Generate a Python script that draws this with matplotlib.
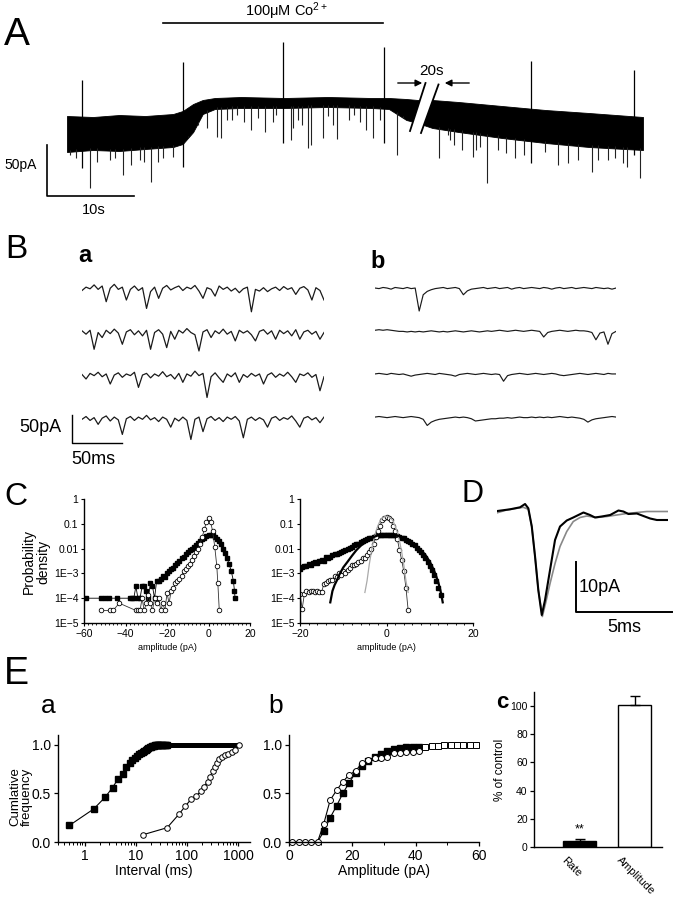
import numpy as np
import matplotlib
matplotlib.use("Agg")
import matplotlib.pyplot as plt
import matplotlib.transforms as mtransforms
from matplotlib.ticker import FixedLocator, MultipleLocator, NullLocator, LogLocator, NullFormatter
from matplotlib.patches import Polygon

plt.rcParams['font.family'] = ['Liberation Sans', 'DejaVu Sans']
plt.rcParams['mathtext.fontset'] = 'custom'
plt.rcParams['mathtext.rm'] = 'Liberation Sans'
plt.rcParams['mathtext.default'] = 'regular'
plt.rcParams['axes.linewidth'] = 1.0

# ---------------- data ----------------
# A: long recording (time s, current pA)
a_env_t = [0, 3, 6, 9, 12.2, 13.3, 14.5, 15.6, 17, 20, 25, 30, 35, 37, 39, 40.3, 42.0, 45, 50, 55, 60, 66.2]
a_env_top = [34, 33, 35, 34, 36, 39, 46, 50, 52, 53, 52, 53, 52, 52, 51, 50, 50, 48, 44, 40, 37, 33]
a_env_bot = [-2, 0, -1, 1, 3, 6, 18, 36, 41, 42, 42, 43, 42, 41, 30, 27, 22, 18, 12, 7, 3, 0]
a_art_t = [1.7, 13.3, 24.8, 36.4, 53.3, 65.2]
a_art_top = [70, 88, 108, 103, 89, 80]
a_art_bot = [-18, -17, 7, 7, -13, -5]
a_mini_t = [0.4, 1.0, 2.6, 3.5, 4.9, 5.5, 6.4, 7.4, 8.4, 8.9, 9.7, 10.5, 11.0, 12.2, 13.9, 15.0, 16.1, 17.2,
            17.7, 18.4, 19.0, 19.5, 20.3, 21.1, 22.0, 22.8, 23.7, 24.0, 25.7, 26.0, 26.5, 27.0, 27.7, 28.0,
            29.4, 30.0, 30.6, 31.0, 32.4, 33.0, 33.7, 34.4, 35.2, 36.0, 37.9, 38.6, 39.8, 42.8, 43.8, 44.0,
            44.5, 45.4, 46.7, 47.0, 47.5, 48.3, 49.5, 50.5, 51.5, 52.5, 54.9, 56.4, 57.6, 58.7, 60.3, 61.0,
            62.2, 63.0, 63.9, 64.4, 65.9]
a_mini_i = [-5, -8, -38, -12, -10, -8, -25, -15, -10, -12, -32, -12, -8, -7, 13, 25, 22, 13, 12, 30,
            30, 35, 28, 20, 32, 18, 28, 35, 10, 22, 30, 25, 2, 5, 12, 34, 25, 11, 30, 35,
            28, 20, 12, 30, -5, 32, 25, -8, 15, 10, 5, 0, -7, 0, 3, -33, 0, -3, -8, -5,
            -2, -15, -13, -10, -22, -10, -10, -8, -13, -17, -28]

# B: sample traces (pA), sampled every 4 ms
b_dt = 4
ba1 = [-8, -2, -5, 2, -6, 0, -28, -4, 3, -6, -2, -25, -6, 0, -8, -3, -40, -10, -2, -22, -4, 1, -7, -3, 0, -8,
       -2, -5, 1, -9, -22, -3, -6, -18, 0, -6, -2, -9, -4, -12, -5, -2, -46, -6, -9, -3, -10, -5, -2, -8,
       -1, -6, -3, -15, -4, -1, -7, -25, -3, -8, -25]
ba2 = [-3, -9, -2, -36, -6, -15, -2, -8, 0, -7, -27, -5, -1, -10, -3, -12, -2, -36, -6, -1, -9, -33, -4, -18,
       -2, -7, 1, -6, -10, -39, -5, -1, -15, -3, -8, 0, -9, -4, -21, -2, -7, -3, -10, -21, -4, -1, -9, -3,
       -18, -2, -8, -3, -12, -1, -18, -5, -2, -9, -4, -18, -6]
ba3 = [-4, -12, -2, -6, 0, -8, -3, -21, -5, -1, -9, -3, -6, 0, -27, -5, -2, -10, -3, -7, 1, -8, -4, -12,
       -2, -18, -3, -7, 2, -6, -2, -45, -8, -1, -10, -18, -3, -8, -1, -18, -4, -9, -2, -7, -3, -21, -5, -1,
       -9, -3, -7, 0, -8, -18, -3, -6, -1, -9, -4, -33, -8]
ba4 = [-6, -1, -8, -3, -15, -4, 0, -9, -2, -7, -33, -5, -1, -8, -2, -6, 1, -7, -3, -10, -2, -6, -20, -4,
       -9, -2, -8, -42, -6, -2, -28, -5, -1, -8, -3, -10, -2, -6, -1, -9, -39, -6, -2, -8, -3, -7, -20, -4,
       -1, -8, -3, -6, 0, -9, -20, -4, -1, -7, -3, -12, -2]
bb1 = [0, -1, 1, 0, -2, 1, 0, -1, 1, -1, 0, -41, -12, -6, -3, -1, 0, 1, -1, 0, 1, -1, -12, -5, -2, -1, 0,
       1, -1, 0, 1, -1, 0, 1, -2, 0, 1, -1, 0, 1, 0, -1, 1, 0, -2, 0, 1, -1, 0, 1, -1, 0, 1, 0, -1, 1, 0,
       -1, 0, -2, 0]
bb2 = [1, 2, 1, 2, 1, 0, -1, -1, -2, -1, -2, -1, -2, -1, 0, -1, -2, -1, -2, -1, 0, -1, -2, -1, 0, -1, -2,
       -1, 0, -1, 0, 1, 0, -1, 0, 1, 0, -1, 0, 1, 0, -1, -11, -3, -1, 0, 1, 0, -1, 0, 1, 0, 0, -1, -3, -16,
       -4, -2, -24, -5, -1]
bb3 = [0, 1, 0, -1, 1, 0, -1, 0, -2, -4, -2, -1, 0, 1, 0, -1, 1, 0, -1, -2, -4, -1, 0, 1, 0, -1, 0, 1,
       0, -1, 0, -1, -13, -3, -1, 0, 1, 0, -1, 0, 1, 0, -1, 0, 1, 0, -2, -3, -2, -1, 0, 1, 0, -1, 0, 1, 0,
       -1, 1, 0, 0]
bb4 = [0, 1, 0, -1, 0, 1, 0, -1, 0, 1, 0, -1, -4, -15, -9, -6, -4, -3, -2, -1, 0, -1, 0, -1, -3, -7, -6,
       -5, -4, -3, -3, -2, -2, -1, -2, -1, 0, -1, -1, 0, -1, 0, -1, 0, -1, 0, 1, 0, -1, 0, -1, -2, -4, -9,
       -5, -3, -2, -1, 0, 1, 0]

# C: amplitude histograms (pA, probability density)
cl_sq_x = [-59, -52, -50, -48, -44, -38, -37, -36, -35, -34, -33, -32, -31, -30, -29, -28, -27, -26, -25, -24,
           -23, -22, -21, -20, -19, -18, -17, -16, -15, -14, -13, -12, -11, -10, -9, -8, -7, -6, -5, -4,
           -3, -2, -1, 0, 1, 2, 3, 4, 5, 6, 7, 8, 9, 10, 11, 12, 12.5, 12.8]
cl_sq_p = [1e-4, 1e-4, 1e-4, 1e-4, 1e-4, 1e-4, 1e-4, 1e-4, 3e-4, 1e-4, 1e-4, 3e-4, 3e-4, 2e-4, 1e-4, 4e-4, 3e-4,
           1e-4, 5e-4, 5e-4, 6e-4, 8e-4, 7e-4, 1e-3, 1.2e-3, 1.5e-3, 1.7e-3, 2.2e-3, 2.6e-3, 3.2e-3, 4e-3,
           4.6e-3, 5.8e-3, 7e-3, 8.5e-3, 1e-2, 1.2e-2, 1.45e-2, 1.7e-2, 2e-2, 2.4e-2, 2.8e-2, 3.2e-2, 3.5e-2,
           3.6e-2, 3.4e-2, 3.0e-2, 2.5e-2, 2.0e-2, 1.5e-2, 1.0e-2, 6.5e-3, 4e-3, 2.3e-3, 1.2e-3, 5e-4, 2e-4, 1e-4]
cl_ci_x = [-52, -47.5, -46, -43, -35, -34, -33, -32, -31, -30, -29, -28, -27, -26, -25, -24, -23, -22, -21,
           -20, -19, -18, -17, -16, -15, -14, -13, -12, -11, -10, -9, -8, -7, -6, -5, -4, -3, -2, -1, 0,
           1, 2, 3, 4, 4.5, 5.2]
cl_ci_p = [3.2e-5, 3.2e-5, 3.2e-5, 6.3e-5, 3.2e-5, 3.2e-5, 3.2e-5, 1e-4, 3.2e-5, 6.3e-5, 1.3e-4, 6.3e-5, 3.2e-5,
           1e-4, 6.3e-5, 1e-4, 3.2e-5, 6.3e-5, 3.2e-5, 1.6e-4, 6.3e-5, 2e-4, 2.5e-4, 4e-4, 5e-4, 6e-4, 8e-4,
           1.2e-3, 1.5e-3, 2e-3, 2.5e-3, 3.5e-3, 5e-3, 7e-3, 1e-2, 1.6e-2, 3e-2, 6e-2, 0.12, 0.17, 0.12, 0.05,
           0.012, 2e-3, 4e-4, 3.2e-5]
cr_bin_start = -20.0
cr_bin_width = 0.5
cr_sq_p = [1.5e-3, 1.8e-3, 2.0e-3, 1.9e-3, 2.3e-3, 2.2e-3, 2.6e-3, 2.9e-3, 2.7e-3, 3.3e-3,
           3.6e-3, 3.3e-3, 4.4e-3, 4.0e-3, 4.8e-3, 5.3e-3, 5.8e-3, 6.1e-3, 6.8e-3, 7.4e-3,
           8.2e-3, 9.0e-3, 1.0e-2, 1.1e-2, 1.2e-2, 1.35e-2, 1.5e-2, 1.6e-2, 1.8e-2, 2.0e-2,
           2.2e-2, 2.4e-2, 2.6e-2, 2.8e-2, 3.0e-2, 3.2e-2, 3.4e-2, 3.5e-2, 3.6e-2, 3.7e-2,
           3.7e-2, 3.7e-2, 3.6e-2, 3.5e-2, 3.4e-2, 3.2e-2, 3.0e-2, 2.8e-2, 2.6e-2, 2.3e-2,
           2.1e-2, 1.8e-2, 1.6e-2, 1.35e-2, 1.1e-2, 9e-3, 7e-3, 5.5e-3, 4e-3, 3e-3,
           2e-3, 1.4e-3, 9e-4, 5e-4, 2.5e-4, 1.3e-4]
cr_ci_p = [1.52e-4, 3.7e-5, 1.44e-4, 1.95e-4, 1.83e-4, 1.95e-4, 1.95e-4, 1.83e-4, 1.95e-4, 1.83e-4,
           1.83e-4, 3.6e-4, 4.2e-4, 4.8e-4, 5.6e-4, 5.6e-4, 7.6e-4, 6.9e-4, 1.03e-3, 8.3e-4,
           1.2e-3, 1.03e-3, 1.4e-3, 1.6e-3, 2.2e-3, 2.1e-3, 2.3e-3, 2.8e-3, 3.2e-3, 4.0e-3,
           4.0e-3, 5.5e-3, 7.4e-3, 9.4e-3, 1.58e-2, 2.9e-2, 5.3e-2, 8.3e-2, 0.144, 0.178,
           0.195, 0.178, 0.144, 8.3e-2, 5.3e-2, 2.5e-2, 8.6e-3, 3.5e-3, 1.2e-3, 2.6e-4, 3.4e-5]
cr_fit_x = [-13, -12.5, -12, -11.5, -11, -10, -9, -8, -7, -6, -5, -4, -3, -2, -1, 0, 1, 2, 3, 4, 5, 6, 7,
            8, 9, 10, 11, 11.5, 12, 12.5, 13]
cr_fit_p = [6.8e-5, 1.95e-4, 3.4e-4, 5.1e-4, 8.3e-4, 1.74e-3, 2.95e-3, 5.1e-3, 8.5e-3, 1.29e-2, 1.74e-2,
            2.34e-2, 2.9e-2, 3.4e-2, 3.8e-2, 3.9e-2, 3.8e-2, 3.6e-2, 3.16e-2, 2.6e-2, 2.1e-2, 1.67e-2,
            1.24e-2, 8.6e-3, 5.5e-3, 3.0e-3, 1.28e-3, 7.6e-4, 4.2e-4, 1.95e-4, 6.8e-5]
cr_noise_x = [-5, -4.5, -4, -3.5, -3, -2.5, -2, -1.5, -1, -0.5, 0, 0.5, 1, 1.5, 2, 2.5, 3, 3.5, 4, 4.5, 5]
cr_noise_p = [1.7e-4, 5e-4, 2.2e-3, 7.4e-3, 2.1e-2, 4.6e-2, 8.3e-2, 0.13, 0.17, 0.19, 0.2, 0.19, 0.17, 0.13,
              8.3e-2, 4.6e-2, 2.1e-2, 7.4e-3, 2.2e-3, 5e-4, 1.7e-4]

# D: averaged mEPSCs (ms, pA)
d_black_t = [0.02, 0.68, 1.2, 1.46, 1.63, 1.81, 1.98, 2.15, 2.33, 2.5, 2.76, 3.02, 3.28, 3.63, 3.97, 4.5,
             4.84, 5.1, 5.45, 5.89, 6.32, 6.58, 6.84, 7.28, 7.62, 7.97, 8.32, 8.87]
d_black_i = [-0.2, 0.14, 0.54, 1.2, 0.34, -3.3, -9.3, -16, -21, -18, -12, -6, -3.3, -2.1, -1.5, -0.5,
             -1, -1.5, -1.3, -1, -0.1, -0.3, -0.8, -0.7, -1.2, -1.7, -2, -2]
d_grey_t = [0.02, 0.5, 1.03, 1.37, 1.63, 1.81, 1.98, 2.15, 2.36, 2.55, 2.76, 3.02, 3.28, 3.63, 3.97, 4.32,
            4.67, 5.19, 5.71, 6.23, 6.75, 7.28, 7.8, 8.32, 8.87]
d_grey_i = [-0.54, 0, 0.34, 0.54, 0.14, -3.3, -9.3, -16, -21.3, -18.3, -14.7, -10.7, -7.3, -4.3, -2.3,
            -1.5, -1.2, -1.5, -1.3, -1, -0.7, -0.5, -0.3, -0.3, -0.3]

# E a: cumulative interval distributions
ea_sq_x = [0.5, 1.5, 2.5, 3.5, 4.5, 5.5, 6.5, 7.5, 8.5, 9.5, 10.5, 11.5, 12.5, 13.5, 14.5, 15.5, 16.5, 17.5,
           18.5, 19.5, 20.5, 21.5, 22.5, 23.5, 24.5, 25.5, 26.5, 27.5, 28.5, 29.5, 30.5, 32.5, 34.5, 36.5,
           38.5, 40.5]
ea_sq_y = [0.17, 0.34, 0.46, 0.56, 0.65, 0.70, 0.77, 0.81, 0.84, 0.86, 0.88, 0.90, 0.915, 0.93, 0.94, 0.95,
           0.96, 0.97, 0.975, 0.98, 0.985, 0.99, 0.99, 0.995, 0.995, 1, 1, 1, 1, 1, 1, 1, 1, 1, 1, 1]
ea_plateau_x = [40.5, 1000]
ea_plateau_y = [1, 1]
ea_ci_x = [13.8, 40.8, 69, 93, 119, 147, 186, 216, 251, 279, 316, 350, 383, 423, 479, 551, 637, 740, 861, 1025]
ea_ci_y = [0.075, 0.147, 0.284, 0.37, 0.438, 0.469, 0.52, 0.57, 0.62, 0.668, 0.726, 0.77, 0.81, 0.85,
           0.873, 0.897, 0.907, 0.925, 0.942, 1.0]
# E b: cumulative amplitude distributions
eb_sq_x = [11, 13, 15, 17, 19, 21, 23, 25, 27, 29, 31, 33, 35, 37, 39, 41]
eb_sq_y = [0.11, 0.25, 0.37, 0.50, 0.61, 0.71, 0.78, 0.83, 0.87, 0.90, 0.935, 0.955, 0.965, 0.972, 0.98, 0.98]
eb_ci_x = [1, 3, 5, 7, 9, 11, 13, 15, 17, 19, 21, 23, 25, 27, 29, 31, 33, 35, 37, 39, 41]
eb_ci_y = [0, 0, 0, 0, 0, 0.19, 0.43, 0.53, 0.62, 0.69, 0.73, 0.81, 0.84, 0.86, 0.86, 0.875, 0.91, 0.92,
           0.93, 0.93, 0.94]
eb_tail_x = [43, 45, 47, 49, 51, 53, 55, 57, 59]
eb_tail_y = [0.98, 0.985, 0.99, 0.995, 1, 1, 1, 1, 1]
# E c: summary
ec_labels = ['Rate', 'Amplitude']
ec_vals = [4.5, 101]
ec_errs = [1.5, 6]

# ---------------- figure ----------------
W, H = 675, 899
fig = plt.figure(figsize=(W / 100, H / 100), dpi=100)


def add_ax(x0, y0, x1, y1, **kw):
    return fig.add_axes([x0 / W, 1 - y1 / H, (x1 - x0) / W, (y1 - y0) / H], **kw)


# ---- A ----
ax = add_ax(67, 30, 643, 200)
ax.set_xlim(0, 66.2)
ax.set_ylim(-50, 120)
ax.axis('off')
ax.fill_between(a_env_t, a_env_bot, a_env_top, color='black', lw=0.6)
mini_start = np.interp(a_mini_t, a_env_t, a_env_bot) + 2
ax.vlines(a_mini_t, a_mini_i, mini_start, color='#222222', lw=0.8)
ax.vlines(a_art_t, a_art_bot, a_art_top, color='black', lw=0.9)

# ---- B ----
b_ylim = (-292.8, 28.6)
ba_offsets = [0, -77, -154, -232]
bb_offsets = [-3.6, -80, -157, -234]
axba = add_ax(82, 270, 324, 450)
axbb = add_ax(375, 270, 616, 450)
for axx, traces, offs, lw in [(axba, [ba1, ba2, ba3, ba4], ba_offsets, 0.9),
                              (axbb, [bb1, bb2, bb3, bb4], bb_offsets, 0.85)]:
    axx.set_xlim(0, 240)
    axx.set_ylim(*b_ylim)
    axx.axis('off')
    for tr, off in zip(traces, offs):
        tt = np.arange(len(tr)) * b_dt
        axx.plot(tt, np.array(tr) + off, color='#1a1a1a', lw=lw)

# ---- C ----
def style_c(axx, xlim, xmaj, xmin):
    axx.set_yscale('log')
    axx.set_ylim(1e-5, 1)
    axx.set_xlim(*xlim)
    axx.yaxis.set_major_locator(FixedLocator([1e-5, 1e-4, 1e-3, 1e-2, 1e-1, 1]))
    axx.set_yticklabels(['1E\u22125', '1E\u22124', '1E\u22123', '0.01', '0.1', '1'])
    axx.yaxis.set_minor_locator(NullLocator())
    axx.xaxis.set_major_locator(MultipleLocator(xmaj))
    axx.xaxis.set_minor_locator(MultipleLocator(xmin))
    for s in ['top', 'right']:
        axx.spines[s].set_visible(False)
    axx.tick_params(labelsize=7.5, length=2.5, width=0.8, pad=1.5)
    axx.tick_params(which='minor', length=1.5, width=0.6)
    axx.set_xlabel('amplitude (pA)', fontsize=6.5, labelpad=3)


axcl = add_ax(84, 499, 250, 623)
style_c(axcl, (-60, 20), 20, 2)
axcl.plot(cl_sq_x, cl_sq_p, color='black', lw=0.6, marker='s', ms=2.8, mfc='black', mec='black')
axcl.plot(cl_ci_x, cl_ci_p, color='#333333', lw=0.6, marker='o', ms=3.3, mfc='white', mec='black', mew=0.6)

axcr = add_ax(300, 499, 473, 623)
style_c(axcr, (-20, 20), 20, 2)
cr_sq_x = cr_bin_start + cr_bin_width * np.arange(len(cr_sq_p))
cr_ci_x = cr_bin_start + cr_bin_width * np.arange(len(cr_ci_p))
axcr.plot(cr_sq_x, cr_sq_p, color='black', lw=0.6, marker='s', ms=2.8, mfc='black', mec='black', ls='none')
axcr.plot(cr_ci_x, cr_ci_p, color='#333333', lw=0.6, marker='o', ms=3.3, mfc='white', mec='black', mew=0.6)
axcr.plot(cr_noise_x, cr_noise_p, color='#aaaaaa', lw=0.9)
axcr.plot(cr_fit_x, cr_fit_p, color='black', lw=1.6)

# ---- D ----
axd = add_ax(497, 490, 668, 630)
axd.set_xlim(0, 8.9)
axd.set_ylim(-24, 4)
axd.axis('off')
axd.plot(d_grey_t, d_grey_i, color='#888888', lw=1.2)
axd.plot(d_black_t, d_black_i, color='black', lw=1.5)

# ---- E ----
def style_e(axx):
    for s in ['top', 'right']:
        axx.spines[s].set_visible(False)
    axx.set_ylim(0, 1.1)
    axx.yaxis.set_major_locator(FixedLocator([0, 0.5, 1.0]))
    axx.set_yticklabels(['0.0', '0.5', '1.0'])
    axx.tick_params(labelsize=10, length=3, width=0.9, pad=2)
    axx.tick_params(which='minor', length=1.8, width=0.7)


axea = add_ax(58, 735, 250, 842)
style_e(axea)
axea.set_xscale('log')
axea.set_xlim(0.3, 1700)
axea.xaxis.set_major_locator(FixedLocator([1, 10, 100, 1000]))
axea.set_xticklabels(['1', '10', '100', '1000'])
axea.xaxis.set_minor_locator(LogLocator(base=10, subs=np.arange(2, 10)))
axea.xaxis.set_minor_formatter(NullFormatter())
axea.plot(ea_plateau_x, ea_plateau_y, color='black', lw=3.6, solid_capstyle='butt', clip_on=False)
axea.plot(ea_sq_x, ea_sq_y, color='black', lw=0.8, marker='s', ms=3.7, clip_on=False)
axea.plot(ea_ci_x, ea_ci_y, color='black', lw=0.8, marker='o', ms=4.0, mfc='white', mew=0.7, clip_on=False)
axea.set_xlabel('Interval (ms)', fontsize=10, labelpad=1)

axeb = add_ax(289, 735, 479, 842)
style_e(axeb)
axeb.set_xlim(0, 60)
axeb.xaxis.set_major_locator(MultipleLocator(20))
axeb.xaxis.set_minor_locator(MultipleLocator(10))
axeb.plot([9] + eb_sq_x, [0] + eb_sq_y, color='black', lw=0.8)
axeb.plot(eb_sq_x, eb_sq_y, color='black', lw=0, marker='s', ms=4.2, clip_on=False)
axeb.plot(eb_ci_x, eb_ci_y, color='black', lw=0.8, marker='o', ms=4.3, mfc='white', mew=0.7, clip_on=False)
axeb.plot(eb_tail_x, eb_tail_y, color='black', lw=0, marker='s', ms=4.2, mfc='white', mew=0.7, clip_on=False)
axeb.set_xlabel('Amplitude (pA)', fontsize=10, labelpad=1)

axec = add_ax(534, 692, 662, 847)
for s in ['top', 'right']:
    axec.spines[s].set_visible(False)
axec.set_xlim(-0.83, 1.5)
axec.set_ylim(0, 110)
axec.bar([0, 1], ec_vals, width=0.6, color=['black', 'white'], edgecolor='black', lw=1.0)
axec.errorbar([0, 1], ec_vals, yerr=[[0, 0], ec_errs], fmt='none', ecolor='black', capsize=3.5, lw=1.0,
              capthick=1.0)
axec.yaxis.set_major_locator(MultipleLocator(20))
axec.tick_params(axis='y', labelsize=7.5, length=3, width=0.9, pad=1.5)
axec.set_xticks([0, 1])
axec.set_xticklabels(ec_labels, rotation=-45, ha='left', va='top', rotation_mode='anchor', fontsize=7.8)
axec.tick_params(axis='x', length=0, pad=6)
shift = mtransforms.ScaledTranslation(-9 / 72, 0, fig.dpi_scale_trans)
for tl in axec.get_xticklabels():
    tl.set_transform(tl.get_transform() + shift)
axec.set_ylabel('% of control', fontsize=8.5, labelpad=3)
axec.text(0, ec_vals[0] + ec_errs[0] + 2.5, '**', ha='center', va='bottom', fontsize=9)

# ---------------- overlay (labels, scale bars) ----------------
ov = fig.add_axes([0, 0, 1, 1], zorder=10)
ov.set_xlim(0, W)
ov.set_ylim(H, 0)
ov.axis('off')
ov.patch.set_alpha(0)

def lab(x, y, s, size, **kw):
    ov.text(x, y, s, fontsize=size, ha=kw.pop('ha', 'left'), va=kw.pop('va', 'center'), **kw)

# panel letters
lab(4, 35, 'A', 28)
lab(5, 250, 'B', 24)
lab(78, 255, 'a', 17, fontweight='bold')
lab(370, 262, 'b', 17, fontweight='bold')
lab(4, 497, 'C', 23)
lab(462, 494, 'D', 22)
lab(4, 674, 'E', 27)
lab(41, 706, 'a', 19)
lab(268, 706, 'b', 19)
lab(496, 703, 'c', 16, fontweight='bold')

# A annotations
ov.plot([163, 383], [23, 23], color='black', lw=1.2)
lab(287, 11, '100\u03bcM Co$^{2+}$', 10.5, ha='center')
ov.add_patch(Polygon([(410, 131), (425.5, 83), (438.5, 84.5), (421, 133)], closed=True, fc='white', ec='none', zorder=5))
ov.plot([410, 425.5], [131, 83], color='black', lw=1.3, zorder=6)
ov.plot([421, 438.5], [133, 84.5], color='black', lw=1.3, zorder=6)
ov.annotate('', xy=(425, 83), xytext=(395, 83), arrowprops=dict(arrowstyle='-|>', color='black', lw=1.0, mutation_scale=10))
ov.annotate('', xy=(442, 83), xytext=(472, 83), arrowprops=dict(arrowstyle='-|>', color='black', lw=1.0, mutation_scale=10))
lab(432, 71, '20s', 11, ha='center')
ov.plot([47, 47, 134], [145, 196, 196], color='black', lw=1.2)
lab(21, 165, '50pA', 10, ha='center')
lab(94, 210, '10s', 10.5, ha='center')

# B scale bar
ov.plot([72, 72, 122], [415, 443, 443], color='black', lw=1.0)
lab(40, 428, '50pA', 13, ha='center')
lab(93, 459, '50ms', 13, ha='center')

# C ylabel
lab(36, 562, 'Probability\ndensity', 10, ha='center', rotation=90, linespacing=1.05)

# E a ylabel
lab(21, 797, 'Cumlative\nfrequency', 9.5, ha='center', rotation=90, linespacing=1.0)

# D scale bar
ov.plot([576, 576, 672], [562, 612, 612], color='black', lw=1.4)
lab(579, 588, '10pA', 13)
lab(624, 628, '5ms', 13, ha='center')

fig.savefig('out.png', dpi=100)
